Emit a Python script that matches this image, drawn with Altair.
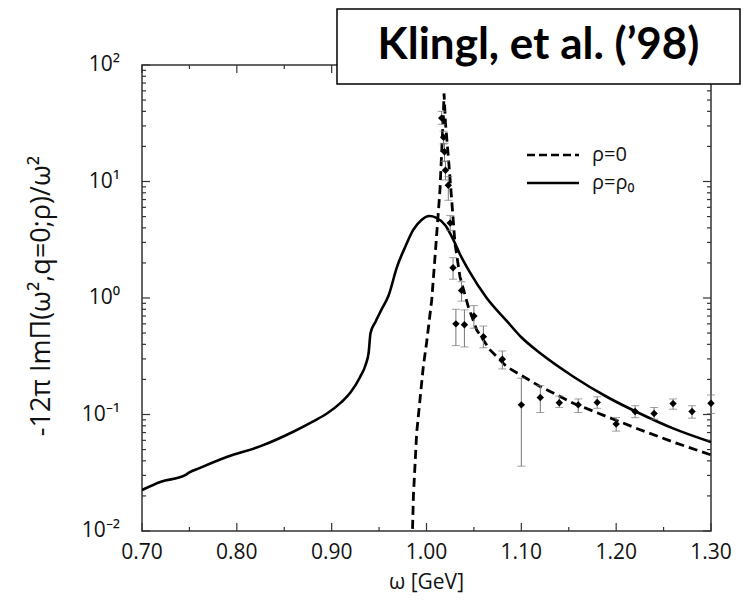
import altair as alt
import pandas as pd

# rho = rho_0 (solid)
solid_x = [0.700, 0.720, 0.745, 0.750, 0.760, 0.790, 0.825, 0.860, 0.880, 0.895, 0.910, 0.920,
           0.930, 0.936, 0.939, 0.941, 0.946, 0.952, 0.960, 0.969, 0.978, 0.986, 0.995, 1.003,
           1.010, 1.020, 1.028, 1.035, 1.045, 1.0635, 1.085, 1.100, 1.120, 1.155, 1.190, 1.225,
           1.260, 1.300]
solid_y = [0.0225, 0.0265, 0.0300, 0.0318, 0.0345, 0.0434, 0.0535, 0.0715, 0.087, 0.102, 0.127, 0.155,
           0.21, 0.27, 0.34, 0.50, 0.62, 0.78, 1.05, 1.86, 2.8, 3.84, 4.7, 5.06,
           4.9, 4.2, 3.2, 2.4, 1.7, 1.0, 0.63, 0.46, 0.335, 0.211, 0.142, 0.102,
           0.076, 0.058]

# rho = 0 (dashed)
dash_x = [0.9845, 0.9862, 0.9896, 0.9966, 1.0002, 1.0055, 1.009, 1.0142, 1.0177, 1.0185,
          1.0200, 1.023, 1.0266, 1.030, 1.0353, 1.0441, 1.053, 1.067, 1.0846, 1.1197,
          1.1548, 1.190, 1.2252, 1.2603, 1.300]
dash_y = [0.006, 0.02, 0.069, 0.257, 0.42, 0.96, 2.26, 8.45, 36, 57,
          32, 16.3, 6.9, 2.95, 1.52, 0.84, 0.53, 0.358, 0.257, 0.174,
          0.125, 0.096, 0.074, 0.058, 0.045]

# data points with error bars
pt_x = [1.016, 1.018, 1.019, 1.020, 1.023, 1.025, 1.028, 1.031, 1.037, 1.040, 1.050, 1.060,
        1.080, 1.100, 1.120, 1.140, 1.160, 1.180, 1.200, 1.220, 1.240, 1.260, 1.280, 1.300]
pt_y = [35, 24, 18, 12.5, 9.3, 4.4, 1.82, 0.60, 1.16, 0.59, 0.70, 0.466,
        0.298, 0.121, 0.140, 0.126, 0.121, 0.127, 0.083, 0.106, 0.102, 0.124, 0.106, 0.125]
pt_lo = [31, 21, 14.8, 10.3, 6.9, 3.8, 1.45, 0.39, 0.94, 0.38, 0.55, 0.374,
         0.246, 0.036, 0.104, 0.115, 0.104, 0.113, 0.072, 0.094, 0.091, 0.111, 0.093, 0.102]
pt_hi = [40, 27, 21.3, 15, 11, 5.1, 2.22, 0.80, 1.38, 0.79, 0.86, 0.575,
         0.351, 0.205, 0.177, 0.144, 0.136, 0.142, 0.094, 0.119, 0.115, 0.136, 0.119, 0.147]

x_major = [0.70, 0.80, 0.90, 1.00, 1.10, 1.20, 1.30]
x_labels = ["0.70", "0.80", "0.90", "1.00", "1.10", "1.20", "1.30"]
x_minor = [0.75, 0.85, 0.95, 1.05, 1.15, 1.25]
y_major = [0.01, 0.1, 1, 10, 100]
y_labels = ["10⁻²", "10⁻¹", "10⁰", "10¹", "10²"]
y_minor = [0.02, 0.03, 0.04, 0.05, 0.06, 0.07, 0.08, 0.09,
           0.2, 0.3, 0.4, 0.5, 0.6, 0.7, 0.8, 0.9,
           2, 3, 4, 5, 6, 7, 8, 9,
           20, 30, 40, 50, 60, 70, 80, 90]

legend_labels = ["ρ=0", "ρ=ρ₀"]
title_text = "Klingl, et al. (’98)"
x_title = "ω [GeV]"
y_title = "-12π ImΠ(ω²,q=0;ρ)/ω²"

W, H = 569, 466
FONT = "Open Sans"
TICK = "#333"
TXT = "#111"

solid_df = pd.DataFrame({"x": solid_x, "y": solid_y})
dash_df = pd.DataFrame({"x": dash_x, "y": dash_y})
pts_df = pd.DataFrame({"x": pt_x, "y": pt_y, "lo": pt_lo, "hi": pt_hi})

xs = alt.Scale(domain=[0.7, 1.3], nice=False, zero=False, padding=0)
ys = alt.Scale(type="log", domain=[0.01, 100], nice=False, padding=0)


def one(t):
    return pd.DataFrame({"t": [t]})


def xticks(values, edge, length):
    df = pd.DataFrame({"v": values})
    y0 = H if edge == "bottom" else 0
    y1 = H - length if edge == "bottom" else length
    return alt.Chart(df).mark_rule(color=TICK, strokeWidth=1.2).encode(
        x=alt.X("v:Q", scale=xs, axis=None), y=alt.value(y0), y2=alt.value(y1))


def yticks(values, edge, length):
    df = pd.DataFrame({"v": values})
    x0 = 0 if edge == "left" else W
    x1 = length if edge == "left" else W - length
    return alt.Chart(df).mark_rule(color=TICK, strokeWidth=1.2).encode(
        y=alt.Y("v:Q", scale=ys, axis=None), x=alt.value(x0), x2=alt.value(x1))


tick_layers = [
    xticks(x_major, "bottom", 8), xticks(x_minor, "bottom", 4),
    xticks(x_major, "top", 8), xticks(x_minor, "top", 4),
    yticks(y_major, "left", 8), yticks(y_minor, "left", 4),
    yticks(y_major, "right", 8), yticks(y_minor, "right", 4),
]

x_lab = alt.Chart(pd.DataFrame({"v": x_major, "t": x_labels})).mark_text(
    font=FONT, fontSize=21, color=TXT, baseline="middle", align="center").encode(
    x=alt.X("v:Q", scale=xs, axis=None), y=alt.value(H + 22), text="t:N")
y_lab = alt.Chart(pd.DataFrame({"v": y_major, "t": y_labels})).mark_text(
    font=FONT, fontSize=21, color=TXT, baseline="middle", align="right").encode(
    y=alt.Y("v:Q", scale=ys, axis=None), x=alt.value(-22), text="t:N")
x_tit = alt.Chart(one(x_title)).mark_text(
    font=FONT, fontSize=21, color=TXT, baseline="middle", align="center").encode(
    x=alt.value(W / 2), y=alt.value(H + 52), text="t:N")
y_tit = alt.Chart(one(y_title)).mark_text(
    font=FONT, fontSize=27, color=TXT, baseline="middle", align="center", angle=270).encode(
    x=alt.value(-100), y=alt.value(231), text="t:N")

solid = alt.Chart(solid_df).mark_line(color="black", strokeWidth=2.6, interpolate="monotone", clip=True).encode(
    x=alt.X("x:Q", scale=xs, axis=None),
    y=alt.Y("y:Q", scale=ys, axis=None),
)
dashed = alt.Chart(dash_df).mark_line(color="black", strokeWidth=2.8, strokeDash=[9, 5], clip=True).encode(
    x=alt.X("x:Q", scale=xs, axis=None),
    y=alt.Y("y:Q", scale=ys, axis=None),
)
errs = alt.Chart(pts_df).mark_rule(color="#777", strokeWidth=1).encode(
    x=alt.X("x:Q", scale=xs, axis=None),
    y=alt.Y("lo:Q", scale=ys, axis=None),
    y2="hi:Q",
)
caps = alt.Chart(pts_df).transform_fold(["lo", "hi"], as_=["k", "v"]).mark_tick(
    color="#777", orient="horizontal", size=8, thickness=1).encode(
    x=alt.X("x:Q", scale=xs, axis=None),
    y=alt.Y("v:Q", scale=ys, axis=None),
)
points = alt.Chart(pts_df).mark_point(shape="diamond", filled=True, color="black", size=55, opacity=1).encode(
    x=alt.X("x:Q", scale=xs, axis=None),
    y=alt.Y("y:Q", scale=ys, axis=None),
)

leg_dash = alt.Chart(one("")).mark_rule(color="black", strokeWidth=2.6, strokeDash=[8, 4]).encode(
    x=alt.value(385), x2=alt.value(437), y=alt.value(90))
leg_solid = alt.Chart(one("")).mark_rule(color="black", strokeWidth=2.6).encode(
    x=alt.value(385), x2=alt.value(437), y=alt.value(118))
leg_t1 = alt.Chart(one(legend_labels[0])).mark_text(
    align="left", baseline="middle", font=FONT, fontSize=20, color=TXT).encode(
    x=alt.value(450), y=alt.value(90), text="t:N")
leg_t2 = alt.Chart(one(legend_labels[1])).mark_text(
    align="left", baseline="middle", font=FONT, fontSize=20, color=TXT).encode(
    x=alt.value(450), y=alt.value(118), text="t:N")

box = alt.Chart(one("")).mark_rect(fill="white", stroke="black", strokeWidth=1.5).encode(
    x=alt.value(195), x2=alt.value(598), y=alt.value(-56), y2=alt.value(19))
box_text = alt.Chart(one(title_text)).mark_text(
    align="center", baseline="alphabetic", font="Lato", fontWeight="bold", fontSize=44, color="black").encode(
    x=alt.value(396.5), y=alt.value(-6), text="t:N")

chart = alt.layer(
    solid, *tick_layers, dashed, errs, caps, points, x_lab, y_lab, x_tit, y_tit,
    leg_dash, leg_solid, leg_t1, leg_t2, box, box_text
).properties(
    width=W, height=H,
    autosize=alt.AutoSizeParams(type="none"),
    padding={"left": 134, "top": 57, "right": 30, "bottom": 64},
).configure_view(stroke="#333", strokeWidth=1.5)

chart.save("out.html", embed_options={"renderer": "svg", "actions": False})
